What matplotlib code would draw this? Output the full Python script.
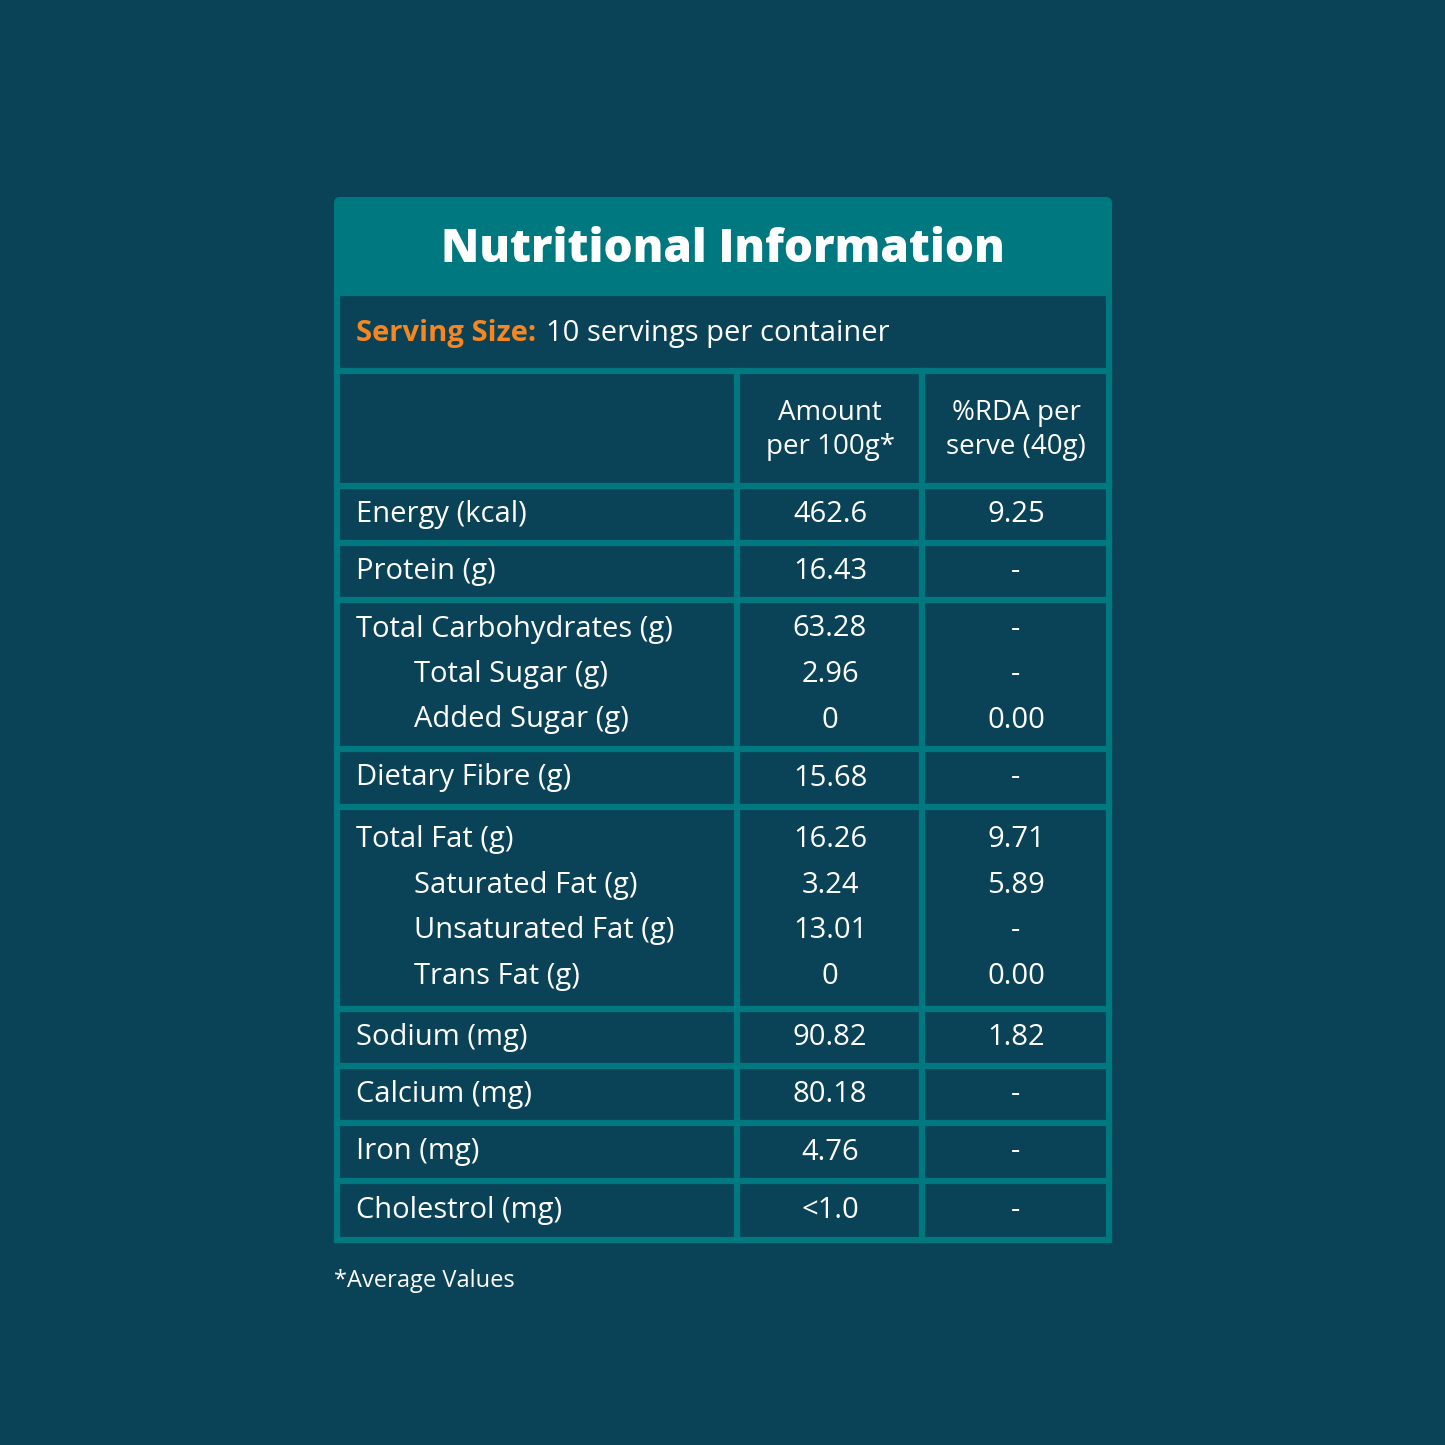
import matplotlib.pyplot as plt
from matplotlib.patches import FancyBboxPatch, Rectangle

# table content
nutrients = ["Energy (kcal)", "Protein (g)", "Total Carbohydrates (g)", "Total Sugar (g)",
             "Added Sugar (g)", "Dietary Fibre (g)", "Total Fat (g)", "Saturated Fat (g)",
             "Unsaturated Fat (g)", "Trans Fat (g)", "Sodium (mg)", "Calcium (mg)",
             "Iron (mg)", "Cholestrol (mg)"]
amounts = ["462.6", "16.43", "63.28", "2.96", "0", "15.68", "16.26", "3.24", "13.01", "0",
           "90.82", "80.18", "4.76", "<1.0"]
rda = ["9.25", "-", "-", "-", "0.00", "-", "9.71", "5.89", "-", "0.00", "1.82", "-", "-", "-"]
indented = [False, False, False, True, True, False, False, True, True, True, False, False, False, False]
groups = [[0], [1], [2, 3, 4], [5], [6, 7, 8, 9], [10], [11], [12], [13]]

BG = "#0a4357"
TEAL = "#00787f"
ORANGE = "#f7861f"
FONT = "Open Sans"
FS = 21

fig = plt.figure(figsize=(14.45, 14.45), dpi=100, facecolor=BG)
ax = fig.add_axes([0, 0, 1, 1])
ax.set_xlim(0, 1445)
ax.set_ylim(1445, 0)
ax.axis("off")
ax.set_facecolor(BG)

x0, x1, x2, x3 = 337, 737, 922, 1109
lw = 4.5

# header banner
ax.add_patch(FancyBboxPatch((334, 197), 778, 98, boxstyle="round,pad=0,rounding_size=6",
                            fc=TEAL, ec="none"))
ax.text(723, 250, "Nutritional Information", color="white", fontsize=33, fontweight="heavy",
        family=FONT, ha="center", va="center")

# serving size
lab = ax.text(356, 333, "Serving Size:", color=ORANGE, fontsize=FS, fontweight="bold",
              family=FONT, ha="left", va="center")
fig.canvas.draw()
bb = lab.get_window_extent()
ax.text(bb.x1 + 10, 333, "10 servings per container", color="white", fontsize=FS,
        family=FONT, ha="left", va="center")

# column headers
ax.text(830, 430, "Amount\nper 100g*", color="white", fontsize=FS - 1, family=FONT,
        ha="center", va="center", linespacing=1.3)
ax.text(1016, 430, "%RDA per\nserve (40g)", color="white", fontsize=FS - 1, family=FONT,
        ha="center", va="center", linespacing=1.3)

# rows
bounds = [486, 543, 600, 749, 807, 1009, 1066, 1123, 1181, 1240]
for g, idx in enumerate(groups):
    top, bot = bounds[g], bounds[g + 1]
    start = (top + bot) / 2 - (len(idx) - 1) * 45.5 / 2
    for k, i in enumerate(idx):
        y = start + k * 45.5
        ax.text(414 if indented[i] else 356, y, nutrients[i], color="white", fontsize=FS,
                family=FONT, ha="left", va="center")
        ax.text(830, y, amounts[i], color="white", fontsize=FS, family=FONT,
                ha="center", va="center")
        ax.text(1016, y, rda[i], color="white", fontsize=FS, family=FONT,
                ha="center", va="center")

# grid lines
ax.add_patch(Rectangle((x0, 293), x3 - x0, 1240 - 293, fill=False, ec=TEAL, lw=lw))
ax.plot([x0, x3], [371, 371], color=TEAL, lw=lw)
for b in bounds[:-1]:
    ax.plot([x0, x3], [b, b], color=TEAL, lw=lw)
for x in (x1, x2):
    ax.plot([x, x], [371, 1240], color=TEAL, lw=lw)

ax.text(334, 1281, "*Average Values", color="white", fontsize=17, family=FONT,
        ha="left", va="center")

fig.savefig("out.png", dpi=100, facecolor=BG)
